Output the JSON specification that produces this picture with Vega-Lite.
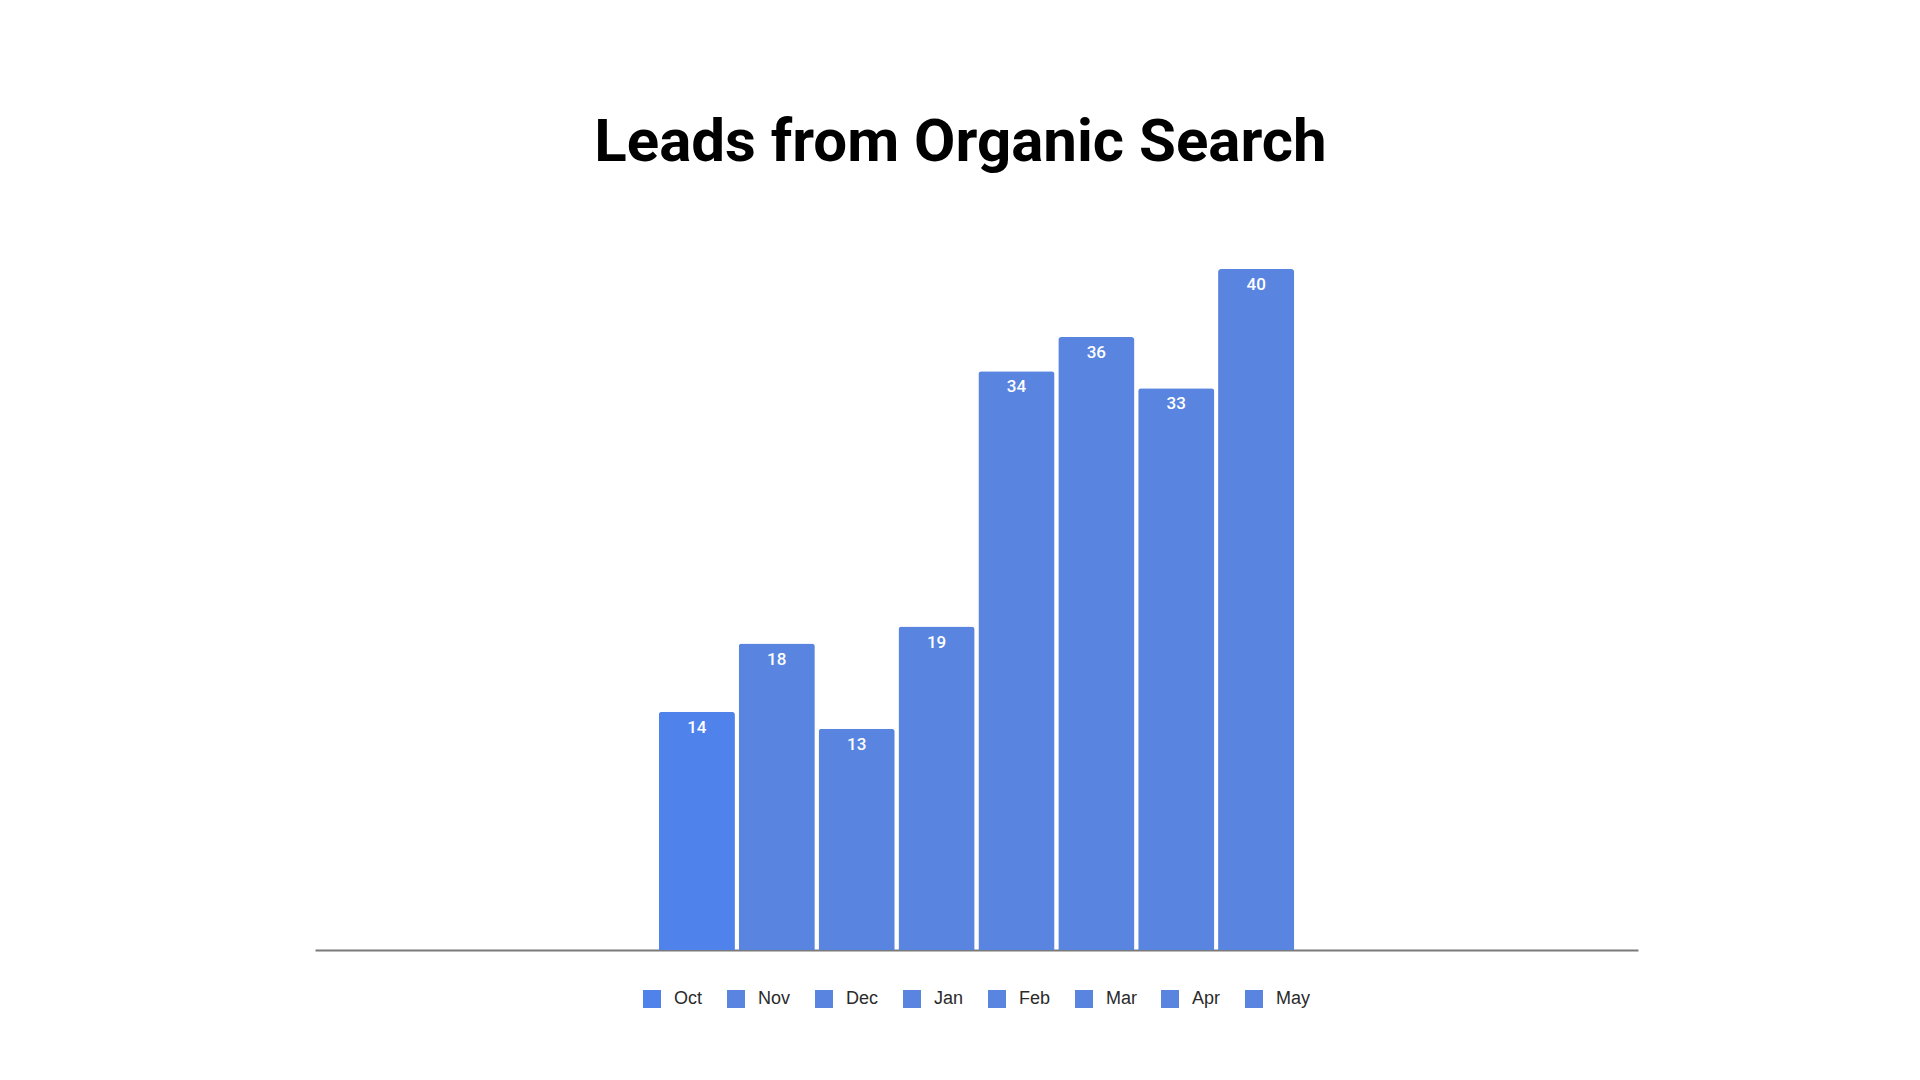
{
  "$schema": "https://vega.github.io/schema/vega-lite/v6.json",
  "description": "Leads from Organic Search, by month",
  "width": 1323,
  "height": 681,
  "autosize": {"type": "none"},
  "padding": {"left": 315, "top": 269, "right": 282, "bottom": 130},
  "background": "white",
  "title": {
    "text": "Leads from Organic Search",
    "font": "Roboto",
    "fontSize": 60,
    "fontWeight": "bold",
    "color": "#000000",
    "anchor": "middle",
    "baseline": "alphabetic",
    "offset": 48,
    "dx": -16
  },
  "data": {
    "values": [
      {"month": "Oct", "leads": 14},
      {"month": "Nov", "leads": 18},
      {"month": "Dec", "leads": 13},
      {"month": "Jan", "leads": 19},
      {"month": "Feb", "leads": 34},
      {"month": "Mar", "leads": 36},
      {"month": "Apr", "leads": 33},
      {"month": "May", "leads": 40}
    ]
  },
  "encoding": {
    "x": {
      "datum": "Leads",
      "type": "nominal",
      "scale": {"paddingInner": 0, "paddingOuter": 0.541},
      "axis": {
        "title": null,
        "labels": false,
        "ticks": false,
        "domainColor": "#7a7a7a",
        "domainWidth": 2
      }
    },
    "xOffset": {
      "field": "month",
      "type": "nominal",
      "sort": null,
      "scale": {"paddingInner": 0.047, "paddingOuter": 0}
    },
    "y": {
      "field": "leads",
      "type": "quantitative",
      "scale": {"domain": [0, 40], "nice": false},
      "axis": null
    }
  },
  "layer": [
    {
      "mark": {"type": "bar", "cornerRadiusTopLeft": 3, "cornerRadiusTopRight": 3},
      "encoding": {
        "color": {
          "field": "month",
          "type": "nominal",
          "sort": null,
          "scale": {
            "domain": ["Oct", "Nov", "Dec", "Jan", "Feb", "Mar", "Apr", "May"],
            "range": ["#4f82ea", "#5985e0", "#5985e0", "#5985e0", "#5985e0", "#5985e0", "#5985e0", "#5985e0"]
          },
          "legend": {
            "title": null,
            "orient": "bottom",
            "direction": "horizontal",
            "offset": 40,
            "symbolType": "square",
            "symbolSize": 324,
            "symbolStrokeWidth": 0,
            "labelFont": "Liberation Sans",
            "labelFontSize": 18,
            "labelColor": "#2a2a2a",
            "labelOffset": 13,
            "columnPadding": 24
          }
        }
      }
    },
    {
      "mark": {
        "type": "text",
        "baseline": "top",
        "dy": 8,
        "color": "white",
        "font": "Roboto",
        "fontSize": 17,
        "fontWeight": 500
      },
      "encoding": {
        "text": {"field": "leads", "type": "quantitative"}
      }
    }
  ],
  "config": {
    "view": {"stroke": null},
    "legend": {"layout": {"bottom": {"anchor": "middle"}}}
  }
}
